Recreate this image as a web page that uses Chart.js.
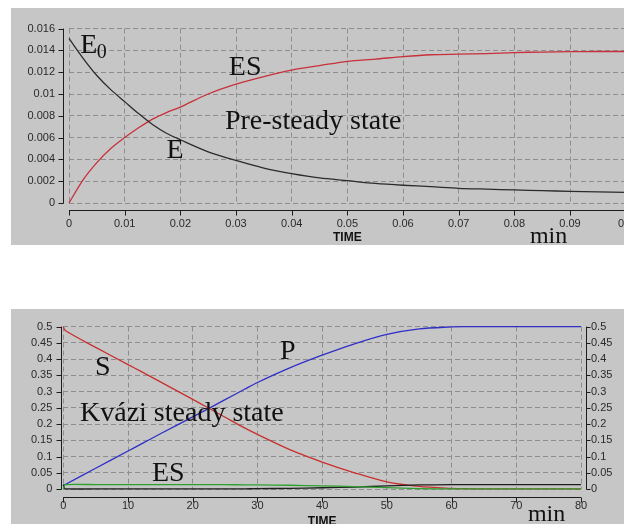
<!DOCTYPE html>
<html><head><meta charset="utf-8">
<script src="https://cdn.jsdelivr.net/npm/chart.js@4.4.1/dist/chart.umd.min.js"></script>
<style>
html,body{margin:0;padding:0;background:#fff;overflow:hidden;width:624px;height:524px;}
#c1{position:absolute;left:11px;top:8px;}
#c2{position:absolute;left:11px;top:309px;}
</style></head><body>
<canvas id="c1" width="640" height="237"></canvas>
<canvas id="c2" width="613" height="225"></canvas>
<script>
// ---------- Top chart data (pre-steady state) ----------
const topTime = [0, 0.0025, 0.005, 0.0075, 0.01, 0.0125, 0.015, 0.0175, 0.02, 0.025, 0.03, 0.035, 0.04, 0.045, 0.05, 0.055, 0.06, 0.065, 0.07, 0.075, 0.08, 0.085, 0.09, 0.095, 0.1];
const topE  = [0.0151, 0.0133, 0.0117, 0.0104, 0.0093, 0.0082, 0.0072, 0.0064, 0.0058, 0.0047, 0.0039, 0.0032, 0.0027, 0.0023, 0.00205, 0.0018, 0.00163, 0.0015, 0.00135, 0.00127, 0.0012, 0.00113, 0.00107, 0.00102, 0.00098];
const topES = [0, 0.0021, 0.0037, 0.0050, 0.0060, 0.0069, 0.0077, 0.0083, 0.0088, 0.0100, 0.0109, 0.0116, 0.0122, 0.0126, 0.0130, 0.0132, 0.01343, 0.0136, 0.01365, 0.0137, 0.0138, 0.01385, 0.01388, 0.0139, 0.0139];
const topXTickLabels = ['0','0.01','0.02','0.03','0.04','0.05','0.06','0.07','0.08','0.09','0.1'];
const topYTickLabels = ['0','0.002','0.004','0.006','0.008','0.01','0.012','0.014','0.016'];

// ---------- Bottom chart data (quasi steady state) ----------
const botTime = [0, 0.3, 5, 10, 12, 15, 20, 25, 28, 30, 35, 40, 45, 50, 55, 60, 62, 65, 70, 75, 80];
const botS  = [0.5, 0.488, 0.436, 0.383, 0.362, 0.330, 0.276, 0.221, 0.188, 0.168, 0.121, 0.083, 0.050, 0.022, 0.008, 0.002, 0.001, 0.0005, 0.0003, 0.0002, 0.0001];
const botP  = [0.011, 0.014, 0.064, 0.117, 0.138, 0.170, 0.222, 0.275, 0.307, 0.328, 0.373, 0.412, 0.447, 0.476, 0.493, 0.499, 0.500, 0.500, 0.500, 0.500, 0.500];
const botES = [0, 0.0135, 0.0135, 0.0134, 0.0134, 0.0134, 0.0133, 0.0132, 0.0130, 0.0125, 0.0115, 0.0097, 0.0075, 0.0040, 0.0010, 0.0003, 0.0002, 0.0001, 0.0001, 0.0001, 0.0001];
const botE  = [0.0135, 0.0001, 0.0001, 0.0002, 0.0004, 0.0004, 0.0004, 0.0005, 0.0006, 0.0010, 0.0020, 0.0038, 0.0060, 0.0095, 0.0125, 0.0133, 0.0134, 0.0135, 0.0135, 0.0135, 0.0135];
const botXTickLabels = ['0','10','20','30','40','50','60','70','80'];
const botYTickLabels = ['0','0.05','0.1','0.15','0.2','0.25','0.3','0.35','0.4','0.45','0.5'];

// ---------- styling ----------
const BG = '#c6c6c6';
const GRID = '#8e8e8e';
const TICKFONT = {family: '"Liberation Sans", Arial, sans-serif', size: 11};
const TICKCOLOR = '#2a2a2a';

const pts = (xs, ys) => xs.map((x, i) => ({x: x, y: ys[i]}));

function fixedTicks(labels) {
  return function (scale) { scale.ticks = labels.map(l => ({value: Number(l)})); };
}

function chromePlugin(axes, notes) {
  return {
    id: 'chrome',
    beforeDraw(chart) {
      const c = chart.ctx;
      c.save(); c.fillStyle = BG; c.fillRect(0, 0, chart.width, chart.height); c.restore();
    },
    afterDraw(chart) {
      const ctx = chart.ctx, a = chart.chartArea;
      ctx.save();
      ctx.strokeStyle = '#1c1c1c'; ctx.lineWidth = 1;
      axes.forEach(ax => {
        const s = chart.scales[ax.id];
        ctx.beginPath();
        if (ax.side === 'left' || ax.side === 'right') {
          const x = Math.round(ax.side === 'left' ? a.left - ax.off : a.right + ax.off) + 0.5;
          ctx.moveTo(x, a.top); ctx.lineTo(x, a.bottom + 0.5);
          s.ticks.forEach(t => {
            const y = Math.round(s.getPixelForValue(t.value)) + 0.5;
            ctx.moveTo(x, y); ctx.lineTo(ax.side === 'left' ? x - ax.len : x + ax.len, y);
          });
        } else {
          const y = Math.round(a.bottom + ax.off) + 0.5;
          ctx.moveTo(a.left, y); ctx.lineTo(a.right, y);
          s.ticks.forEach(t => {
            const x = Math.round(s.getPixelForValue(t.value)) + 0.5;
            ctx.moveTo(x, y); ctx.lineTo(x, y + ax.len);
          });
        }
        ctx.stroke();
      });
      ctx.fillStyle = '#111';
      ctx.textAlign = 'left'; ctx.textBaseline = 'alphabetic';
      notes.forEach(n => {
        ctx.font = n.size + 'px "Liberation Serif", "Times New Roman", serif';
        ctx.fillText(n.text, chart.scales.x.getPixelForValue(n.x), chart.scales.y.getPixelForValue(n.y));
      });
      ctx.restore();
    }
  };
}

// ---------- Top chart ----------
new Chart(document.getElementById('c1'), {
  type: 'line',
  data: {
    datasets: [
      {label: 'E',  data: pts(topTime, topE),  borderColor: '#2b2b2b', borderWidth: 1.3, pointRadius: 0, tension: 0.3, clip: 3},
      {label: 'ES', data: pts(topTime, topES), borderColor: '#c8303a', borderWidth: 1.3, pointRadius: 0, tension: 0.3, clip: 3}
    ]
  },
  options: {
    responsive: false, animation: false, devicePixelRatio: 1,
    layout: {autoPadding: false, padding: {top: 5, right: 25.3, left: 0, bottom: 0}},
    plugins: {legend: {display: false}, tooltip: {enabled: false}},
    scales: {
      x: {
        type: 'linear', min: 0, max: 0.1,
        afterBuildTicks: fixedTicks(topXTickLabels),
        afterFit: s => { s.height = 42; },
        grid: {color: GRID, drawTicks: false},
        border: {display: false, dash: [5, 3]},
        ticks: {font: TICKFONT, color: TICKCOLOR, padding: 14, maxRotation: 0, autoSkip: false,
                callback: (v, i) => topXTickLabels[i]},
        title: {display: true, text: 'TIME', color: '#111',
                font: {family: '"Liberation Sans", Arial, sans-serif', size: 12, weight: 'bold'},
                padding: {top: 0, bottom: 0}}
      },
      y: {
        type: 'linear', min: 0, max: 0.016,
        afterBuildTicks: fixedTicks(topYTickLabels),
        afterFit: s => { s.width = 58; },
        grid: {color: GRID, drawTicks: false},
        border: {display: false, dash: [5, 3]},
        ticks: {font: TICKFONT, color: TICKCOLOR, padding: 14, autoSkip: false,
                callback: (v, i) => topYTickLabels[i]}
      }
    }
  },
  plugins: [chromePlugin(
    [{id: 'y', side: 'left', off: 6, len: 5}, {id: 'x', side: 'bottom', off: 7, len: 5}],
    [
      {text: 'E', x: 0.0020, y: 0.01373, size: 28},
      {text: '0', x: 0.0050, y: 0.01330, size: 20},
      {text: 'ES', x: 0.0287, y: 0.0117, size: 28},
      {text: 'Pre-steady state', x: 0.0280, y: 0.00676, size: 28},
      {text: 'E', x: 0.0175, y: 0.00413, size: 28},
      {text: 'min', x: 0.0828, y: -0.00365, size: 24}
    ]
  )]
});

// ---------- Bottom chart ----------
new Chart(document.getElementById('c2'), {
  type: 'line',
  data: {
    datasets: [
      {label: 'ES', data: pts(botTime, botES), borderColor: '#2ea02e', borderWidth: 1.3, pointRadius: 0, tension: 0.2, clip: 3},
      {label: 'E',  data: pts(botTime, botE),  borderColor: '#1e1e1e', borderWidth: 1.3, pointRadius: 0, tension: 0.2, clip: 3},
      {label: 'S',  data: pts(botTime, botS),  borderColor: '#c83030', borderWidth: 1.3, pointRadius: 0, tension: 0.3, clip: 3},
      {label: 'P',  data: pts(botTime, botP),  borderColor: '#2f2fc8', borderWidth: 1.3, pointRadius: 0, tension: 0.3, clip: 3}
    ]
  },
  options: {
    responsive: false, animation: false, devicePixelRatio: 1,
    layout: {autoPadding: false, padding: {top: 6, right: 0, left: 0, bottom: 0}},
    plugins: {legend: {display: false}, tooltip: {enabled: false}},
    scales: {
      x: {
        type: 'linear', min: 0, max: 80,
        afterBuildTicks: fixedTicks(botXTickLabels),
        afterFit: s => { s.height = 45; },
        grid: {color: GRID, drawTicks: false},
        border: {display: false, dash: [5, 3]},
        ticks: {font: TICKFONT, color: TICKCOLOR, padding: 10, maxRotation: 0, autoSkip: false,
                callback: (v, i) => botXTickLabels[i]},
        title: {display: true, text: 'TIME', color: '#111',
                font: {family: '"Liberation Sans", Arial, sans-serif', size: 12, weight: 'bold'},
                padding: {top: 0, bottom: 5}}
      },
      y: {
        type: 'linear', position: 'left', min: 0, max: 0.5,
        afterBuildTicks: fixedTicks(botYTickLabels),
        afterFit: s => { s.width = 52.3; },
        grid: {color: GRID, drawTicks: false},
        border: {display: false, dash: [5, 3]},
        ticks: {font: TICKFONT, color: TICKCOLOR, padding: 11, autoSkip: false,
                callback: (v, i) => botYTickLabels[i]}
      },
      y2: {
        type: 'linear', position: 'right', min: 0, max: 0.5,
        afterBuildTicks: fixedTicks(botYTickLabels),
        afterFit: s => { s.width = 43; },
        grid: {display: false, drawTicks: false},
        border: {display: false},
        ticks: {font: TICKFONT, color: TICKCOLOR, padding: 10, autoSkip: false,
                callback: (v, i) => botYTickLabels[i]}
      }
    }
  },
  plugins: [chromePlugin(
    [{id: 'y', side: 'left', off: 2, len: 5}, {id: 'x', side: 'bottom', off: 8, len: 5}, {id: 'y2', side: 'right', off: 5, len: 4}],
    [
      {text: 'S', x: 4.9, y: 0.3514, size: 28},
      {text: 'P', x: 33.5, y: 0.3994, size: 28},
      {text: 'Kvázi steady state', x: 2.58, y: 0.2098, size: 28},
      {text: 'ES', x: 13.7, y: 0.0259, size: 28},
      {text: 'min', x: 71.8, y: -0.0977, size: 24}
    ]
  )]
});
</script>
</body></html>
